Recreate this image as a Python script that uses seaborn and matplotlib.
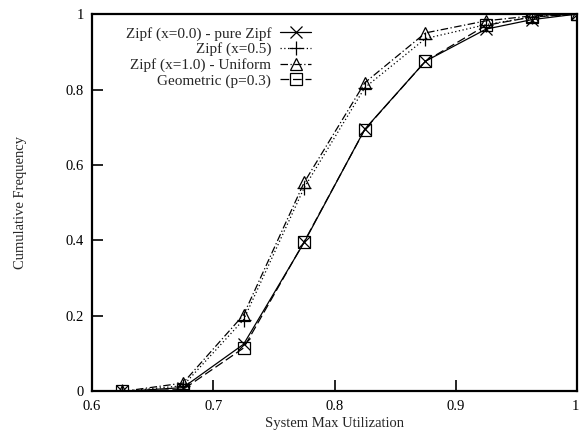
import matplotlib
matplotlib.use("Agg")
import matplotlib.pyplot as plt
import matplotlib.transforms as mtransforms
import seaborn as sns
import pandas as pd

# Utilization bins (x) and cumulative frequency per workload distribution
utilization = [0.625, 0.675, 0.725, 0.775, 0.825, 0.875, 0.925, 0.9625, 1.0]
zipf_00 = [0.0, 0.010, 0.125, 0.395, 0.695, 0.875, 0.960, 0.985, 1.0]
zipf_05 = [0.0, 0.015, 0.190, 0.540, 0.805, 0.935, 0.972, 0.992, 1.0]
zipf_10 = [0.0, 0.022, 0.203, 0.554, 0.818, 0.950, 0.982, 0.995, 1.0]
geometric = [0.0, 0.005, 0.115, 0.397, 0.694, 0.875, 0.970, 0.992, 1.0]

labels = ["Zipf (x=0.0) - pure Zipf", "Zipf (x=0.5)",
          "Zipf (x=1.0) - Uniform", "Geometric (p=0.3)"]
x_ticks = [0.6, 0.7, 0.8, 0.9, 1.0]
x_tick_labels = ["0.6", "0.7", "0.8", "0.9", "1"]
y_ticks = [0, 0.2, 0.4, 0.6, 0.8, 1.0]
y_tick_labels = ["0", "0.2", "0.4", "0.6", "0.8", "1"]

sns.set_style("white")
plt.rcParams["font.family"] = ["Liberation Serif", "DejaVu Serif"]

fig = plt.figure(figsize=(5.79, 4.32), dpi=100)
ax = fig.add_axes([0.159, 0.094, 0.8375, 0.8735])

styles = [
    dict(marker="x", linestyle="-", markersize=9),
    dict(marker="+", linestyle=(0, (1, 2)), markersize=10),
    dict(marker="^", linestyle=(0, (6, 2, 1, 2)), markersize=8),
    dict(marker="s", linestyle=(0, (7, 3)), markersize=8),
]
series = [zipf_00, zipf_05, zipf_10, geometric]

for vals, lab, st in zip(series, labels, styles):
    df = pd.DataFrame({"util": utilization, "freq": vals})
    sns.lineplot(data=df, x="util", y="freq", ax=ax, color="black",
                 linewidth=0.9, markerfacecolor="none", markeredgecolor="black",
                 markeredgewidth=0.9, label=lab, **st)

ax.set_xlim(0.6, 1.0)
ax.set_ylim(0, 1.0)
ax.set_xticks(x_ticks)
ax.set_xticklabels(x_tick_labels)
ax.set_yticks(y_ticks)
ax.set_yticklabels(y_tick_labels)
ax.tick_params(direction="in", length=8, width=1.2, labelsize=10.5,
               color="black", labelcolor="black", pad=6,
               bottom=True, left=True, top=False, right=False)
for sp in ax.spines.values():
    sp.set_visible(True)
    sp.set_color("black")
    sp.set_linewidth(1.6)

# keep the last x tick label inside the figure edge
last = ax.get_xticklabels()[-1]
last.set_transform(last.get_transform() +
                   mtransforms.ScaledTranslation(-2 / 100, 0, fig.dpi_scale_trans))

ax.set_xlabel("System Max Utilization", fontsize=10.5, labelpad=3)
ax.set_ylabel("Cumulative Frequency", fontsize=10.5, labelpad=28)

leg = ax.legend(loc="upper left", bbox_to_anchor=(0.057, 0.983), frameon=False,
                markerfirst=False, fontsize=11, handlelength=2.0,
                handletextpad=0.6, labelspacing=0.12, borderaxespad=0)
for t in leg.get_texts():
    t.set_ha("right")
leg._legend_box.align = "right"

fig.savefig("out.png", dpi=100)
